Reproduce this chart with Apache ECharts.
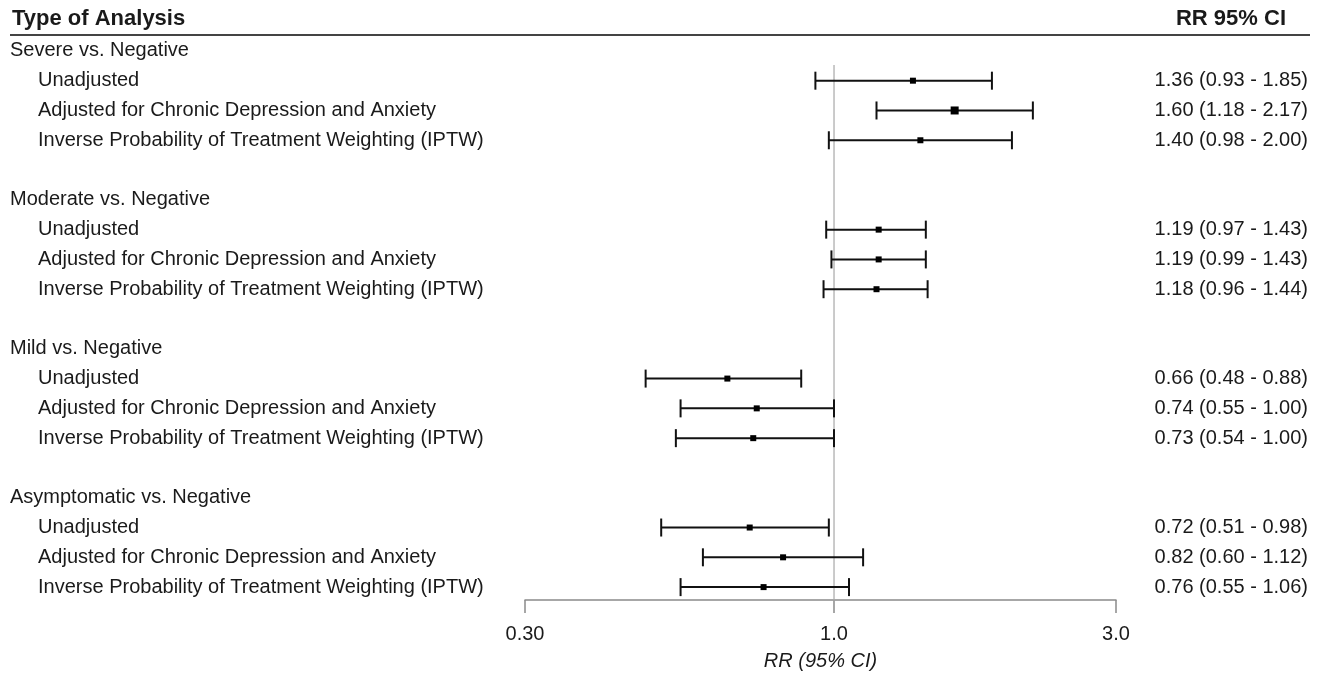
<!DOCTYPE html>
<html>
<head>
<meta charset="utf-8">
<script src="https://cdn.jsdelivr.net/npm/echarts@6/dist/echarts.min.js"></script>
<style>html,body{margin:0;padding:0;background:#fff}#c{width:1320px;height:674px}</style>
</head>
<body>
<div id="c"></div>
<script>
// ---- data ----
const groups = ['Severe vs. Negative', 'Moderate vs. Negative', 'Mild vs. Negative', 'Asymptomatic vs. Negative'];
const methods = ['Unadjusted', 'Adjusted for Chronic Depression and Anxiety', 'Inverse Probability of Treatment Weighting (IPTW)'];
const rr    = [1.36, 1.60, 1.40, 1.19, 1.19, 1.18, 0.66, 0.74, 0.73, 0.72, 0.82, 0.76];
const lower = [0.93, 1.18, 0.98, 0.97, 0.99, 0.96, 0.48, 0.55, 0.54, 0.51, 0.60, 0.55];
const upper = [1.85, 2.17, 2.00, 1.43, 1.43, 1.44, 0.88, 1.00, 1.00, 0.98, 1.12, 1.06];
const xTicks = [0.3, 1.0, 3.0];
const xTickLabels = ['0.30', '1.0', '3.0'];
const refValue = 1.0;

// ---- layout / style ----
const FONT = '"Liberation Sans", Arial, sans-serif';
const TXT = '#1a1a1a';
const FS = 20;
const boxSizes = [6, 8, 6, 6, 6, 6, 6, 6, 6, 6, 6, 6];

// build rows
const rowLabels = [], rowRight = [], rowKind = [], pts = [];
groups.forEach((g, gi) => {
  rowLabels.push(g); rowRight.push(''); rowKind.push('h');
  methods.forEach((m, mi) => {
    const k = gi * 3 + mi;
    pts.push([rr[k], lower[k], upper[k], rowLabels.length, k]);
    rowLabels.push(m);
    rowRight.push(rr[k].toFixed(2) + ' (' + lower[k].toFixed(2) + ' - ' + upper[k].toFixed(2) + ')');
    rowKind.push('m');
  });
  if (gi < groups.length - 1) { rowLabels.push(''); rowRight.push(''); rowKind.push('b'); }
});
const cats = rowLabels.map((_, i) => String(i));

const chart = echarts.init(document.getElementById('c'), null, {renderer: 'canvas'});
chart.setOption({
  animation: false,
  backgroundColor: '#fff',
  grid: {left: 525, right: 204, top: 36, bottom: 72, outerBoundsMode: 'none', containLabel: false},
  xAxis: {
    type: 'log', logBase: 10, min: 0.3, max: 3, offset: -2,
    splitLine: {show: false},
    axisLine: {show: true, lineStyle: {color: '#8a8a8a', width: 1.5}},
    axisTick: {show: true, inside: false, length: 13, customValues: xTicks, lineStyle: {color: '#8a8a8a', width: 1.5}},
    axisLabel: {
      customValues: xTicks, margin: 24, fontFamily: FONT, fontSize: FS, color: TXT,
      formatter: v => { const i = xTicks.findIndex(t => Math.abs(t - v) < 1e-6); return i >= 0 ? xTickLabels[i] : ''; }
    },
    minorTick: {show: false},
    name: 'RR (95% CI)', nameLocation: 'middle', nameGap: 51,
    nameTextStyle: {fontFamily: FONT, fontSize: FS, fontStyle: 'italic', color: TXT}
  },
  yAxis: [{
    type: 'category', data: cats, inverse: true, position: 'left',
    axisLine: {show: false}, axisTick: {show: false}, splitLine: {show: false},
    axisLabel: {
      interval: 0, align: 'left', margin: 515,
      formatter: (v) => { const i = +v; const t = rowLabels[i]; if (!t) return ''; return rowKind[i] === 'h' ? '{h|' + t + '}' : '{m|' + t + '}'; },
      rich: {
        h: {fontFamily: FONT, fontSize: FS, color: TXT},
        m: {fontFamily: FONT, fontSize: FS, color: TXT, padding: [0, 0, 0, 28]}
      }
    }
  }, {
    type: 'category', data: cats, inverse: true, position: 'right',
    axisLine: {show: false}, axisTick: {show: false}, splitLine: {show: false},
    axisLabel: {
      interval: 0, align: 'right', margin: 192, fontFamily: FONT, fontSize: FS, color: TXT,
      formatter: (v) => rowRight[+v]
    }
  }],
  series: [{
    type: 'custom',
    data: [[refValue]],
    encode: {x: 0},
    silent: true,
    z: 1,
    renderItem: (params, api) => {
      const cs = params.coordSys;
      const x = api.coord([api.value(0), 0])[0];
      return {type: 'line', shape: {x1: x, y1: cs.y + 29, x2: x, y2: cs.y + cs.height + 11},
        style: {stroke: '#a8a8a8', lineWidth: 1.2}};
    }
  }, {
    type: 'custom',
    data: pts,
    encode: {x: [0, 1, 2], y: 3},
    z: 3,
    renderItem: (params, api) => {
      const y = api.coord([1, api.value(3)])[1];
      const xe = api.coord([api.value(0), api.value(3)])[0];
      const xl = api.coord([api.value(1), api.value(3)])[0];
      const xh = api.coord([api.value(2), api.value(3)])[0];
      const s = boxSizes[api.value(4)];
      const st = {stroke: '#111', lineWidth: 2};
      return {type: 'group', children: [
        {type: 'line', shape: {x1: xl, y1: y, x2: xh, y2: y}, style: st},
        {type: 'line', shape: {x1: xl, y1: y - 9, x2: xl, y2: y + 9}, style: st},
        {type: 'line', shape: {x1: xh, y1: y - 9, x2: xh, y2: y + 9}, style: st},
        {type: 'rect', shape: {x: xe - s / 2, y: y - s / 2, width: s, height: s}, style: {fill: '#000'}}
      ]};
    }
  }],
  graphic: [
    {type: 'text', x: 12, y: 19, style: {text: 'Type of Analysis', font: 'bold 22px ' + FONT, fill: TXT, textVerticalAlign: 'middle'}},
    {type: 'text', x: 1286, y: 19, style: {text: 'RR 95% CI', font: 'bold 22px ' + FONT, fill: TXT, textAlign: 'right', textVerticalAlign: 'middle'}},
    {type: 'line', shape: {x1: 10, y1: 35, x2: 1310, y2: 35}, style: {stroke: '#444', lineWidth: 2}}
  ]
});
</script>
</body>
</html>
